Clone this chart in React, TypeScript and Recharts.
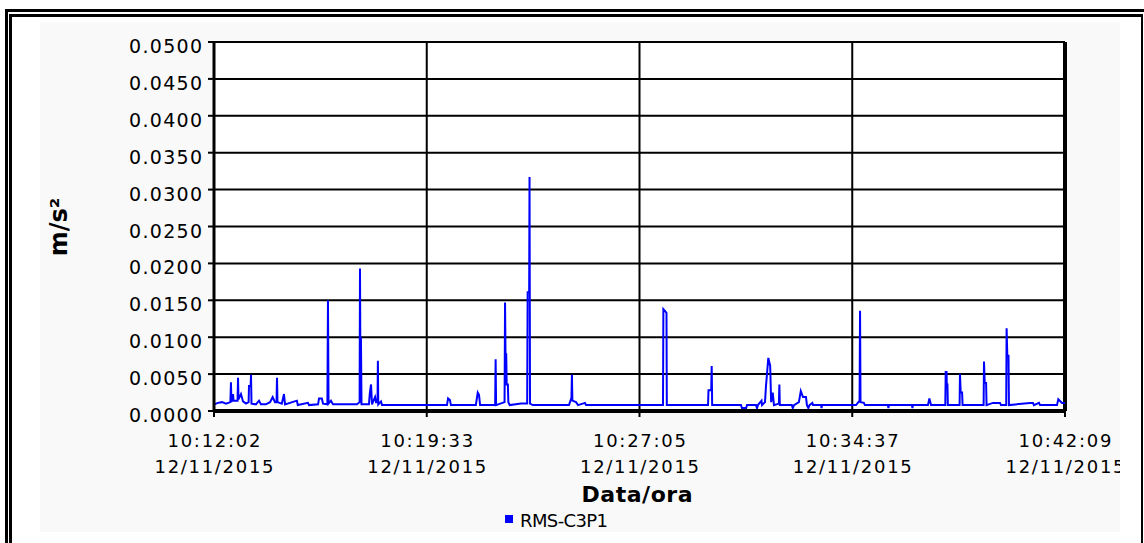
import React from 'react'
import {
  LineChart,
  Line,
  XAxis,
  YAxis,
  CartesianGrid,
  ReferenceLine,
  Legend,
  Label,
} from 'recharts'

// seconds since 10:12:02, value in m/s²
const rmsC3P1: [number, number][] = [
  [0, 0.0009], [8.5, 0.0011], [17, 0.0012], [25.5, 0.001], [34.8, 0.0012], [36, 0.0039],
  [37, 0.0012], [40.4, 0.0023], [41.5, 0.0014], [50, 0.0014], [51, 0.0045], [52, 0.0016], [57.3, 0.0023],
  [61.6, 0.0013], [68, 0.001], [73.5, 0.0012], [74.3, 0.0034], [77.8, 0.0034], [78.6, 0.0049], [79.6, 0.001], [89, 0.0009],
  [95.6, 0.0014], [99.8, 0.0009], [110, 0.0009], [119, 0.0012], [124.6, 0.0019], [129.5, 0.0012],
  [132.8, 0.0012], [133.8, 0.0045], [134.8, 0.0012], [144, 0.001], [148.6, 0.0023], [150.8, 0.0009], [176, 0.0014],
  [178, 0.0008], [199.6, 0.0011], [201.7, 0.0008], [221, 0.0009], [223, 0.0017], [229, 0.0017],
  [231.5, 0.001], [240.8, 0.0009], [242, 0.015], [243.2, 0.001], [248.4, 0.0014], [252.7, 0.0009],
  [303.6, 0.0009], [309.2, 0.0012], [310, 0.0193], [311, 0.004], [312, 0.01], [313.2, 0.0009],
  [329, 0.0009], [331, 0.0025], [333.4, 0.0036], [335.5, 0.0009], [342, 0.0019], [344, 0.0012],
  [347.2, 0.0012], [348, 0.0068], [348.8, 0.0009], [354.6, 0.0013], [356.7, 0.0008],
  [494.7, 0.0008], [497, 0.0017], [501, 0.0015], [503, 0.0008],
  [556, 0.0008], [560, 0.0025], [562.7, 0.0022], [565, 0.0008],
  [597, 0.0008], [598, 0.007], [599, 0.0008], [617, 0.0012], [618, 0.0147], [619, 0.0077],
  [620.5, 0.0077], [621.5, 0.0036], [624, 0.0036], [625, 0.0012], [628, 0.0008],
  [652, 0.001], [665, 0.001], [666, 0.0161], [669.2, 0.0161], [670, 0.0317], [671, 0.001],
  [677, 0.0008], [753.8, 0.0008], [759, 0.0018], [760, 0.0049], [761, 0.0014], [768.7, 0.0012],
  [773, 0.0008], [787.8, 0.0011], [790, 0.0008],
  [953.4, 0.0008], [954.2, 0.0138], [957, 0.0136], [960.8, 0.0133], [961.5, 0.0008],
  [1049, 0.0008], [1050, 0.0028], [1055.8, 0.0028], [1056.8, 0.0061], [1057.8, 0.0008],
  [1119, 0.0008], [1121, 0.0004], [1130, 0.0004], [1131.8, 0.0008],
  [1150.9, 0.0008], [1153, 0.0004], [1155, 0.0008], [1162.6, 0.0014], [1163.6, 0.0008],
  [1170, 0.0012], [1172, 0.0033], [1177, 0.0072], [1181, 0.0061], [1183, 0.0012], [1186.4, 0.0025],
  [1189, 0.0008], [1199.5, 0.001], [1200.5, 0.0036], [1201.5, 0.0008],
  [1227, 0.0008], [1229, 0.0004], [1231.6, 0.0008], [1242, 0.0012], [1246, 0.0027], [1250.7, 0.0019],
  [1257, 0.0019], [1259, 0.0008], [1262, 0.0004], [1264.5, 0.0008], [1270.5, 0.0011], [1272, 0.0008],
  [1289, 0.0008], [1290, 0.0004], [1291, 0.0008],
  [1363.3, 0.0008], [1370.8, 0.0014], [1371.8, 0.0136], [1372.8, 0.0012], [1380, 0.0011], [1382, 0.0008],
  [1431, 0.0008], [1432, 0.0004], [1433.3, 0.0008], [1482, 0.0008], [1483, 0.0004], [1484, 0.0008],
  [1516, 0.0008], [1519, 0.0017], [1522.5, 0.0008],
  [1552.8, 0.0008], [1553.7, 0.0053], [1555.5, 0.0053], [1556, 0.0036], [1557.4, 0.0036], [1558.2, 0.0008],
  [1583.2, 0.0008], [1584, 0.005], [1585.5, 0.0025], [1588.5, 0.0025], [1589.5, 0.0008],
  [1634.2, 0.0008], [1635, 0.0067], [1636.5, 0.0038], [1639.5, 0.0038], [1640.4, 0.0008],
  [1654, 0.0011], [1669, 0.0011], [1671, 0.0008],
  [1682.2, 0.0008], [1683, 0.0112], [1684.5, 0.0075], [1687, 0.0075], [1688, 0.0008],
  [1732.7, 0.0011], [1739, 0.0011], [1741, 0.0008], [1751.8, 0.0011], [1754, 0.0008],
  [1790, 0.0008], [1792.8, 0.0016], [1800.6, 0.0011], [1807, 0.0011],
]

const yTicks = [0, 0.005, 0.01, 0.015, 0.02, 0.025, 0.03, 0.035, 0.04, 0.045, 0.05]
const xTicks = [0, 451.75, 903.5, 1355.25, 1807]
const xTickTimes = ['10:12:02', '10:19:33', '10:27:05', '10:34:37', '10:42:09']
const xTickDate = '12/11/2015'

const data = rmsC3P1.map(([t, v]) => ({ t, v }))

const FONT = '"DejaVu Sans", Verdana, sans-serif'

function XTick(props: any) {
  const { x, y, payload } = props
  const i = xTicks.indexOf(payload.value)
  return (
    <g fontFamily={FONT} fontSize={18} fill="#000">
      <text x={x} y={y + 28} textAnchor="middle" textLength={93}>
        {xTickTimes[i]}
      </text>
      <text x={x} y={y + 54} textAnchor="middle" textLength={119}>
        {xTickDate}
      </text>
    </g>
  )
}

function YTick(props: any) {
  const { x, y, payload } = props
  return (
    <text x={x} y={y + 11} textAnchor="end" fontFamily={FONT} fontSize={19} fill="#000" textLength={73}>
      {payload.value.toFixed(4)}
    </text>
  )
}

const legendBox = () => (
  <svg width={130} height={26} style={{ display: 'block', overflow: 'visible' }}>
    <rect x={1} y={7} width={8} height={8} fill="#0000ff" />
    <text x={16} y={19} fontFamily={FONT} fontSize={18} fill="#000" textLength={88}>
      RMS-C3P1
    </text>
  </svg>
)

export default function App() {
  return (
    <div style={{ position: 'absolute', left: 0, top: 0, width: 1144, height: 543, background: '#fff', overflow: 'hidden' }}>
      <div style={{ position: 'absolute', left: 5, top: 9, width: 1200, height: 600, border: '3px solid #000', boxSizing: 'border-box' }} />
      <div
        style={{
          position: 'absolute', left: 9, top: 14, width: 1134, height: 600, boxSizing: 'border-box',
          borderTop: '3px solid #000', borderLeft: '3px solid #000', borderRight: '2px solid #000', background: '#fff',
        }}
      />
      <div style={{ position: 'absolute', left: 40, top: 22, width: 1080, height: 510, background: '#f9f9f9', overflow: 'hidden' }}>
        <div style={{ position: 'absolute', left: -40, top: -22 }}>
          <LineChart width={1144} height={543} data={data} margin={{ top: 42, right: 79, left: 114, bottom: 40 }}>
            <CartesianGrid stroke="#000" strokeWidth={2} fill="#fff" />
            <XAxis
              dataKey="t"
              type="number"
              domain={[0, 1807]}
              ticks={xTicks}
              height={92}
              tickSize={6}
              tickMargin={2}
              tick={<XTick />}
              axisLine={{ stroke: '#000', strokeWidth: 4 }}
              tickLine={{ stroke: '#000', strokeWidth: 2 }}
              interval={0}
            >
              <Label
                content={() => (
                  <text x={637} y={502} textAnchor="middle" fontFamily={FONT} fontWeight="bold" fontSize={22} fill="#000" textLength={111}>
                    Data/ora
                  </text>
                )}
              />
            </XAxis>
            <YAxis
              type="number"
              domain={[0, 0.05]}
              ticks={yTicks}
              width={100}
              tickSize={6}
              tickMargin={6}
              tick={<YTick />}
              axisLine={{ stroke: '#000', strokeWidth: 3 }}
              tickLine={{ stroke: '#000', strokeWidth: 2 }}
              interval={0}
            >
              <Label
                content={() => (
                  <text x={67} y={227} transform="rotate(-90 67 227)" textAnchor="middle" fontFamily={FONT} fontWeight="bold" fontSize={24} fill="#000">
                    m/s²
                  </text>
                )}
              />
            </YAxis>
            <ReferenceLine x={1807} stroke="#000" strokeWidth={4} />
            <Line
              type="linear"
              dataKey="v"
              stroke="#0000ff"
              strokeWidth={2}
              dot={false}
              isAnimationActive={false}
              name="RMS-C3P1"
            />
            <Legend
              verticalAlign="middle"
              align="center"
              content={legendBox}
              wrapperStyle={{ position: 'absolute', left: 504, top: 508, width: 130, height: 26 }}
            />
          </LineChart>
        </div>
      </div>
    </div>
  )
}
